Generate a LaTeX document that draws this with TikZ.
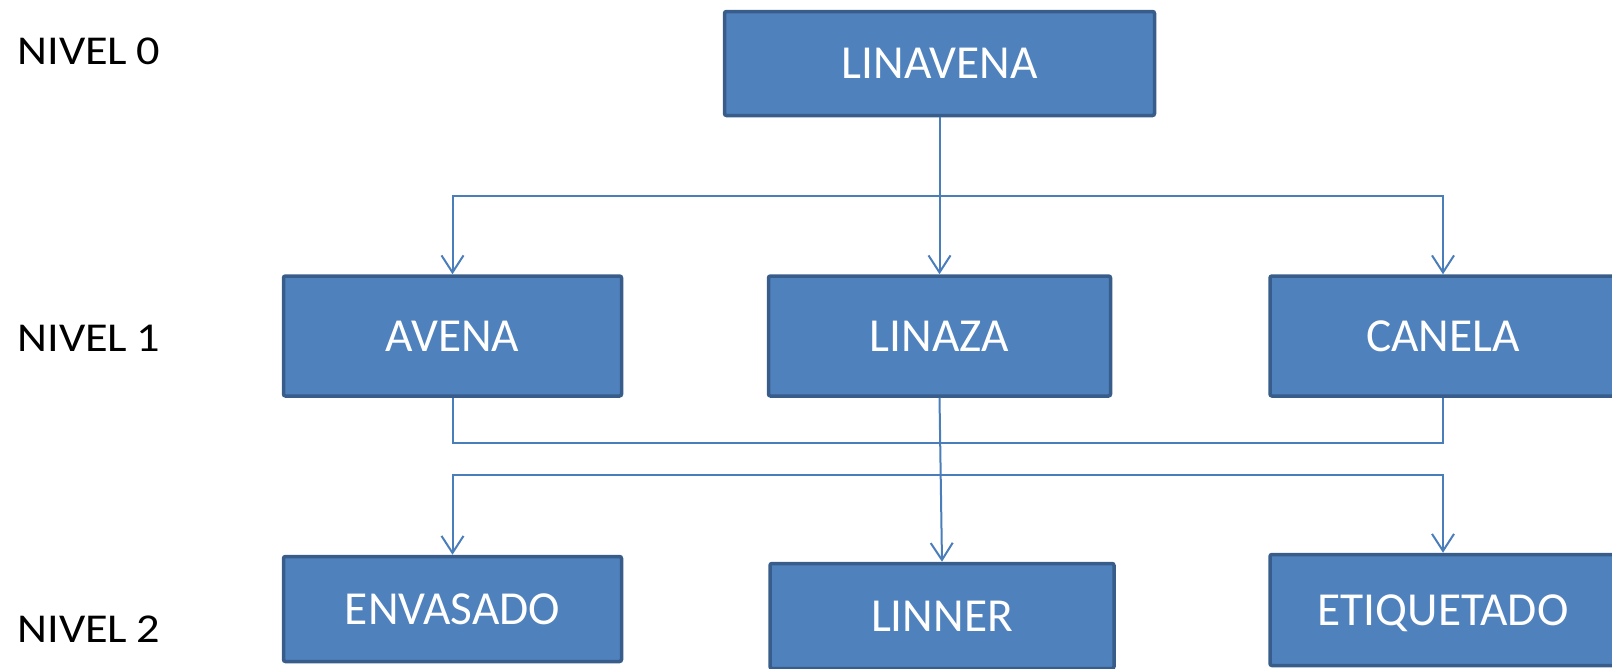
\documentclass[tikz,border=0pt]{standalone}
\usepackage{fontspec}
\setmainfont{Carlito}
\newfontfamily\lvlfont[FakeStretch=1.13]{Carlito}
\usetikzlibrary{arrows.meta}
\definecolor{boxfill}{RGB}{79,129,189}
\definecolor{boxedge}{RGB}{56,93,138}
\definecolor{linkcol}{RGB}{74,126,187}
\tikzset{
  unitbox/.style={draw=boxedge, fill=boxfill, line width=1.75pt, rounded corners=1pt,
    text=white, inner sep=0pt, text depth=0pt,
    font=\fontsize{23.7}{28}\selectfont},
  levellabel/.style={anchor=west, inner sep=0pt, text=black,
    font=\lvlfont\fontsize{20.5}{24}\selectfont},
  link/.style={draw=linkcol, line width=1pt},
  linkarrow/.style={link, -{Straight Barb[length=8.5pt,width=11pt,line width=1pt]}},
  linkboth/.style={link, {Straight Barb[length=8.5pt,width=11pt,line width=1pt]}-{Straight Barb[length=8.5pt,width=11pt,line width=1pt]}}
}
\begin{document}
\begin{tikzpicture}[x=0.5pt, y=-0.5pt]
  \useasboundingbox (0,0) rectangle (1612,669);

  % level labels
  \node[levellabel] (n0) at (17,51)  {NIVEL\hspace{0.22em}0};
  \node[levellabel] (n1) at (17,338) {NIVEL\hspace{0.22em}1};
  \node[levellabel] (n2) at (17,629) {NIVEL\hspace{0.22em}2};

  % level 0
  \node[unitbox, minimum width=215pt, minimum height=52pt] (linavena) at (939.5,63.5) {LINAVENA};

  % level 1
  \node[unitbox, minimum width=169pt, minimum height=60pt] (avena)  at (452.5,336) {AVENA};
  \node[unitbox, minimum width=171pt, minimum height=60pt] (linaza) at (939.5,336) {LINAZA};
  \node[unitbox, minimum width=173pt, minimum height=60pt] (canela) at (1443,336)  {CANELA};

  % level 2
  \node[unitbox, minimum width=169pt, minimum height=52.5pt] (envasado)   at (452.5,609) {ENVASADO};
  \node[unitbox, minimum width=172pt, minimum height=52.5pt] (linner)     at (942,616)   {LINNER};
  \node[unitbox, minimum width=173pt, minimum height=55.5pt] (etiquetado) at (1443,610)  {ETIQUETADO};

  % connectors from the top unit
  \draw[linkarrow] (linavena.south) -- (linaza.north);
  \draw[linkarrow] (linavena.south) ++(0,79) -| (avena.north);
  \draw[linkarrow] (linavena.south) ++(0,79) -| (canela.north);

  % connectors between level 1 and level 2
  \draw[link] (avena.south) -- ++(0,45) -| (canela.south);
  \draw[linkboth] (envasado.north) -- ++(0,-80) -| (etiquetado.north);
  \draw[linkarrow] (linaza.south) -- (linner.north);
\end{tikzpicture}
\end{document}
